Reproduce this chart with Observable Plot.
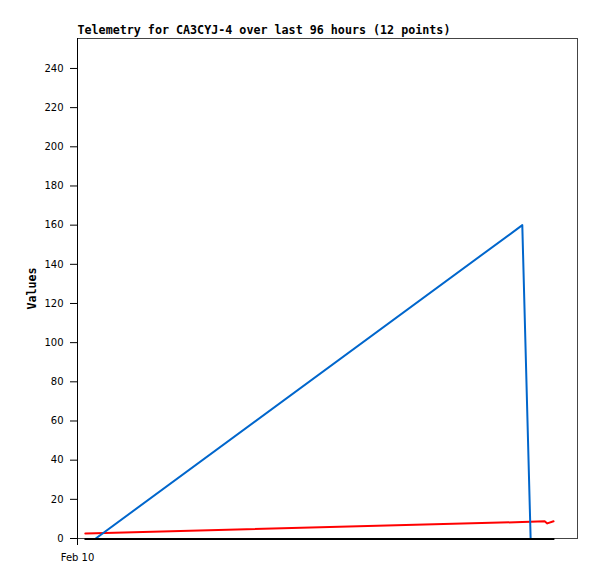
<!DOCTYPE html>
<html>
<head>
<meta charset="utf-8">
<script src="https://cdn.jsdelivr.net/npm/d3@7"></script>
<script src="https://cdn.jsdelivr.net/npm/@observablehq/plot@0.6"></script>
<style>
  html, body { margin: 0; padding: 0; background: #fff; }
  #chart svg { display: block; }
</style>
</head>
<body>
<div id="chart"></div>
<script>
const title = "Telemetry for CA3CYJ-4 over last 96 hours (12 points)";
const yLabel = "Values";
const startTime = "2024-02-10T00:00:00Z";
const spanHours = 96;
// hours after start for each sample
const hours = [1.5, 3.5, 85.4, 87.0, 89.7, 90.2, 91.4];
const seriesBlack = [0, 0, 0, 0, 0, 0, 0];
const seriesBlue = [null, 0, 160, 0, null, null, null];
const seriesRed = [2.6, 2.7, 8.4, 8.5, 8.8, 7.7, 8.8];
const yTicks = [0, 20, 40, 60, 80, 100, 120, 140, 160, 180, 200, 220, 240];
const xTickLabels = ["Feb 10"];

const t0 = new Date(startTime);
const toDate = h => new Date(t0.getTime() + h * 3600e3);
const t1 = toDate(spanHours);

const rows = [];
const add = (name, vals) => hours.forEach((h, i) => rows.push({series: name, t: toDate(h), v: vals[i]}));
add("black", seriesBlack);
add("red", seriesRed);
add("blue", seriesBlue);

const colors = {black: "#000000", red: "#ff0000", blue: "#0066cc"};

const plot = Plot.plot({
  width: 597,
  height: 579,
  marginLeft: 77,
  marginRight: 20,
  marginTop: 38,
  marginBottom: 41,
  style: {fontFamily: "DejaVu Sans", fontSize: "10px", color: "#000", background: "#fff"},
  x: {type: "utc", domain: [t0, t1]},
  y: {domain: [0, 255.3]},
  marks: [
    Plot.frame({stroke: "#444", strokeWidth: 1}),
    Plot.axisY({ticks: yTicks, tickSize: 7, tickPadding: 7, label: null, stroke: "#000"}),
    Plot.axisX({ticks: [t0], tickFormat: (d, i) => xTickLabels[i], tickSize: 7, tickPadding: 8, label: null}),
    Plot.ruleX([t0], {stroke: "#000", strokeWidth: 1}),
    Plot.line(rows.filter(r => r.series === "black"), {
      x: "t", y: "v", stroke: colors.black, strokeWidth: 2.2, dy: 0.5
    }),
    ...["red", "blue"].map(s =>
      Plot.line(rows.filter(r => r.series === s), {
        x: "t", y: "v", stroke: colors[s], strokeWidth: 2, clip: true
      })
    ),
    Plot.text([title], {frameAnchor: "top-left", dy: -13, textAnchor: "start",
      fontFamily: "DejaVu Sans Mono", fontWeight: "bold", fontSize: 11.7, fill: "#000"}),
    Plot.text([yLabel], {frameAnchor: "left", dx: -45, rotate: -90, textAnchor: "middle",
      fontFamily: "DejaVu Sans Mono", fontWeight: "bold", fontSize: 11.7, fill: "#000"})
  ]
});
document.getElementById("chart").appendChild(plot);
</script>
</body>
</html>
